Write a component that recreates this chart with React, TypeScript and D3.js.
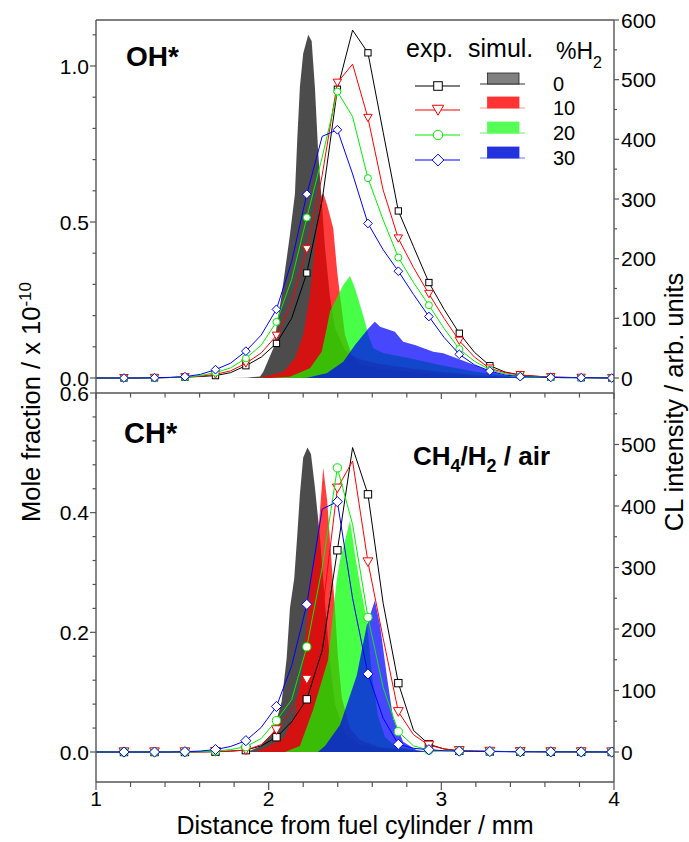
import React from 'react';
import * as d3 from 'd3';

type Pt = [number, number];

// ---------- Experimental grid (mm) ----------
const expX = [0.985, 1.074, 1.162, 1.25, 1.339, 1.427, 1.515, 1.604, 1.692, 1.78, 1.868, 1.957, 2.045, 2.133, 2.221, 2.31, 2.398, 2.486, 2.575, 2.663, 2.751, 2.839, 2.928, 3.016, 3.104, 3.192, 3.281, 3.369, 3.457, 3.545, 3.634, 3.722, 3.81, 3.898, 3.987];

// ---------- OH* experiments (CL intensity, arb. units) ----------
const ohExp0 = [0, 0, 0, 0, 0.3, 0.8, 1.5, 2.5, 4, 9, 20.6, 35, 58, 100, 176, 298, 484, 583, 545, 412, 280, 220, 160, 115, 75, 43, 20.6, 10, 5, 3, 1.5, 1, 0.5, 0.3, 0];
const ohExp10 = [0, 0, 0, 0, 0.3, 0.8, 1.5, 3, 6, 12, 24.6, 42, 71, 125, 216, 340, 495, 526, 436, 315, 234, 185, 141, 100, 62.6, 35, 16, 9, 5, 3, 1.5, 1, 0.5, 0.3, 0];
const ohExp20 = [0, 0, 0, 0, 0.3, 0.8, 1.5, 4, 9, 17, 33, 55, 94, 165, 269, 370, 480, 438, 335, 265, 202, 160, 122, 83, 48.6, 28, 14, 7, 3, 2, 1, 0.5, 0.5, 0.3, 0];
const ohExp30 = [0, 0, 0, 0, 0.5, 1, 2.3, 6, 14, 25, 45, 72, 115, 195, 308, 405, 416, 342, 259, 215, 179, 140, 103, 68, 39.7, 22, 11.7, 5, 2.2, 1.5, 1, 0.5, 0.5, 0.3, 0];

// ---------- CH* experiments ----------
const chExp0 = [0, 0, 0, 0, 0, 0, 0, 0.2, 0.5, 1.5, 3, 10, 24, 49, 85.7, 165, 328, 495, 419, 242, 112, 35, 12.5, 5, 2, 1.5, 1, 0.8, 0.5, 0.5, 0.3, 0.3, 0.2, 0.1, 0];
const chExp10 = [0, 0, 0, 0, 0, 0, 0, 0.2, 0.5, 1.5, 3, 12, 36, 68, 118, 225, 429, 473, 309, 185, 65.5, 28, 11, 5, 2, 1.5, 1, 0.8, 0.5, 0.5, 0.3, 0.3, 0.2, 0.1, 0];
const chExp20 = [0, 0, 0, 0, 0, 0, 0.2, 0.5, 1.5, 4, 8.6, 22, 51, 85, 171, 300, 462, 370, 219, 105, 33, 10, 3, 2, 1.5, 1, 1, 0.8, 0.5, 0.5, 0.3, 0.3, 0.2, 0.1, 0];
const chExp30 = [0, 0, 0, 0, 0, 0, 0.5, 1.5, 4, 9, 18.4, 40, 74, 140, 240, 395, 407, 250, 127, 55, 12.5, 6, 3.7, 2, 1.5, 1, 0.8, 0.5, 0.5, 0.3, 0.3, 0.2, 0.2, 0.1, 0];

// ---------- OH* simulations (mole fraction x 1e-10) ----------
const ohSim0X = [1.776, 1.874, 1.95, 1.969, 2.027, 2.075, 2.123, 2.152, 2.166, 2.181, 2.2, 2.229, 2.249, 2.268, 2.287, 2.307, 2.326, 2.355, 2.384, 2.442, 2.529, 2.645, 2.818, 2.992, 3.2, 3.455];
const ohSim0Y = [0, 0.001, 0.005, 0.02, 0.095, 0.266, 0.458, 0.59, 0.77, 0.934, 1.04, 1.1, 1.08, 0.93, 0.72, 0.57, 0.42, 0.26, 0.16, 0.09, 0.045, 0.03, 0.02, 0.012, 0.006, 0];
const ohSim10X = [1.921, 1.95, 2.085, 2.152, 2.2, 2.239, 2.268, 2.287, 2.297, 2.317, 2.339, 2.374, 2.397, 2.413, 2.442, 2.481, 2.529, 2.645, 2.818, 2.992, 3.2, 3.397, 3.629];
const ohSim10Y = [0, 0.001, 0.02, 0.063, 0.138, 0.266, 0.426, 0.533, 0.575, 0.592, 0.554, 0.48, 0.34, 0.266, 0.138, 0.074, 0.06, 0.045, 0.031, 0.02, 0.01, 0.003, 0];
const ohSim20X = [2.008, 2.123, 2.239, 2.307, 2.336, 2.355, 2.432, 2.471, 2.5, 2.529, 2.558, 2.577, 2.606, 2.664, 2.818, 2.992, 3.2, 3.397, 3.571, 3.687];
const ohSim20Y = [0, 0.004, 0.031, 0.084, 0.159, 0.213, 0.298, 0.327, 0.288, 0.234, 0.18, 0.138, 0.095, 0.08, 0.063, 0.042, 0.02, 0.006, 0.001, 0];
const ohSim30X = [2.181, 2.22, 2.336, 2.432, 2.5, 2.577, 2.615, 2.645, 2.731, 2.779, 2.847, 2.953, 3.011, 3.089, 3.166, 3.262, 3.358, 3.455, 3.571];
const ohSim30Y = [0, 0.001, 0.015, 0.052, 0.106, 0.159, 0.18, 0.164, 0.148, 0.116, 0.106, 0.084, 0.079, 0.063, 0.047, 0.026, 0.01, 0.001, 0];

// ---------- CH* simulations ----------
const chSim0X = [1.874, 1.95, 2.027, 2.075, 2.104, 2.123, 2.148, 2.166, 2.181, 2.2, 2.225, 2.245, 2.268, 2.297, 2.326, 2.355, 2.384, 2.442, 2.529, 2.702, 2.934];
const chSim0Y = [0, 0.009, 0.034, 0.084, 0.156, 0.24, 0.29, 0.364, 0.431, 0.492, 0.509, 0.498, 0.442, 0.36, 0.25, 0.15, 0.08, 0.03, 0.012, 0.004, 0];
const chSim10X = [1.921, 1.95, 2.085, 2.152, 2.191, 2.22, 2.245, 2.281, 2.297, 2.316, 2.339, 2.361, 2.384, 2.401, 2.424, 2.471, 2.529, 2.645, 2.876, 3.05];
const chSim10Y = [0, 0.003, 0.023, 0.062, 0.128, 0.212, 0.292, 0.342, 0.403, 0.475, 0.42, 0.33, 0.24, 0.16, 0.09, 0.04, 0.02, 0.008, 0.002, 0];
const chSim20X = [2.094, 2.181, 2.257, 2.343, 2.394, 2.413, 2.442, 2.471, 2.5, 2.529, 2.568, 2.598, 2.633, 2.674, 2.731, 2.876, 3.05];
const chSim20Y = [0, 0.01, 0.07, 0.153, 0.287, 0.32, 0.353, 0.387, 0.33, 0.28, 0.22, 0.13, 0.06, 0.025, 0.01, 0.002, 0];
const chSim30X = [2.285, 2.326, 2.413, 2.51, 2.568, 2.615, 2.645, 2.684, 2.721, 2.779, 2.857, 2.934];
const chSim30Y = [0, 0.01, 0.045, 0.128, 0.212, 0.253, 0.212, 0.128, 0.056, 0.017, 0.003, 0];

// ---------- Ticks & labels ----------
const xTickLabels = ['1', '2', '3', '4'];
const h2Labels = ['0', '10', '20', '30'];
const seriesColors = ['#000000', '#ff0000', '#00f000', '#0000ff'];
const fillColors = ['#000000', '#ff0000', '#00ff00', '#0000ff'];
const fillOpacity = [0.7, 0.76, 0.72, 0.72];
const markerShapes = ['square', 'triangle', 'circle', 'diamond'];

const FONT = "'Liberation Sans', Arial, Helvetica, sans-serif";
const zip = (xs: number[], ys: number[]): Pt[] => xs.map((x, i) => [x, ys[i]]);

function Marker({ shape, x, y, s, color }: { shape: string; x: number; y: number; s: number; color: string }) {
  const common = { fill: '#fff', stroke: color, strokeWidth: 1 };
  if (shape === 'square') return <rect x={x - s * 0.45} y={y - s * 0.45} width={s * 0.9} height={s * 0.9} {...common} />;
  if (shape === 'triangle') {
    const w = s * 0.6, h = s * 0.5;
    return <polygon points={`${x - w},${y - h} ${x + w},${y - h} ${x},${y + h * 1.1}`} {...common} />;
  }
  if (shape === 'circle') return <circle cx={x} cy={y} r={s * 0.5} {...common} />;
  const d = s * 0.62;
  return <polygon points={`${x},${y - d} ${x + d},${y} ${x},${y + d} ${x - d},${y}`} {...common} />;
}

export default function App() {
  const W = 689, H = 842;
  const xL = 96, xR = 614;
  const xS = d3.scaleLinear().domain([1, 4]).range([xL, xR]);
  const axisColor = '#555';

  const panels = [
    {
      id: 'top', y0: 20, y1: 393,
      yL: d3.scaleLinear().domain([0, 1]).range([378, 66]),
      yR: d3.scaleLinear().domain([0, 600]).range([378, 20]),
      sims: [zip(ohSim0X, ohSim0Y), zip(ohSim10X, ohSim10Y), zip(ohSim20X, ohSim20Y), zip(ohSim30X, ohSim30Y)],
      exps: [ohExp0, ohExp10, ohExp20, ohExp30],
      ms: 7,
      leftTicks: d3.range(0, 1.15, 0.1), leftMajorStep: 0.5,
      rightTicks: d3.range(0, 601, 50),
    },
    {
      id: 'bot', y0: 393, y1: 782,
      yL: d3.scaleLinear().domain([0, 0.6]).range([752, 393]),
      yR: d3.scaleLinear().domain([0, 500]).range([752, 444.5]),
      sims: [zip(chSim0X, chSim0Y), zip(chSim10X, chSim10Y), zip(chSim20X, chSim20Y), zip(chSim30X, chSim30Y)],
      exps: [chExp0, chExp10, chExp20, chExp30],
      ms: 8.2,
      leftTicks: d3.range(0, 0.61, 0.04), leftMajorStep: 0.2,
      rightTicks: d3.range(0, 551, 50),
    },
  ];

  const xTicks = d3.range(1, 4.001, 0.2);
  const isMajor = (v: number, step: number) => Math.abs(v / step - Math.round(v / step)) < 1e-6;

  return (
    <svg width={W} height={H} style={{ position: 'absolute', left: 0, top: 0, background: '#fff' }} fontFamily={FONT}>
      <defs>
        {panels.map(p => (
          <clipPath id={`clip-${p.id}`} key={p.id}>
            <rect x={xL} y={p.y0} width={xR - xL} height={p.y1 - p.y0} />
          </clipPath>
        ))}
      </defs>

      {panels.map(p => {
        const area = d3.area<Pt>().x(d => xS(d[0])).y0(p.yL(0)).y1(d => p.yL(d[1]));
        const line = d3.line<Pt>().x(d => xS(d[0])).y(d => p.yR(d[1]));
        return (
          <g key={p.id}>
            <g clipPath={`url(#clip-${p.id})`}>
              {p.sims.map((s, i) => (
                <path key={i} d={area(s) || ''} fill={fillColors[i]} fillOpacity={fillOpacity[i]} stroke="none" />
              ))}
              {p.exps.map((vals, i) => {
                const pts = zip(expX, vals);
                return (
                  <g key={i}>
                    <path d={line(pts) || ''} fill="none" stroke={seriesColors[i]} strokeWidth={1} />
                    {pts.map((d, j) => (j % 2 === 0 && j > 0 ? (
                      <Marker key={j} shape={markerShapes[i]} x={xS(d[0])} y={p.yR(d[1])} s={p.ms} color={seriesColors[i]} />
                    ) : null))}
                  </g>
                );
              })}
            </g>
            {/* left axis */}
            <line x1={xL} x2={xL} y1={p.y0} y2={p.y1} stroke={axisColor} strokeWidth={1.4} />
            {p.leftTicks.map((v, k) => {
              const y = p.yL(v);
              const maj = isMajor(v, p.leftMajorStep);
              return (
                <g key={k}>
                  <line x1={xL - (maj ? 6 : 3.5)} x2={xL} y1={y} y2={y} stroke={axisColor} strokeWidth={1.2} />
                  {maj ? <text x={89} y={y} dy="0.36em" textAnchor="end" fontSize={21}>{v.toFixed(1)}</text> : null}
                </g>
              );
            })}
            {/* right axis */}
            <line x1={xR} x2={xR} y1={p.y0} y2={p.y1} stroke={axisColor} strokeWidth={1.4} />
            {p.rightTicks.map((v, k) => {
              const y = p.yR(v);
              const maj = v % 100 === 0;
              return (
                <g key={k}>
                  <line x1={xR} x2={xR + (maj ? 5 : 3)} y1={y} y2={y} stroke={axisColor} strokeWidth={1.2} />
                  {maj ? <text x={621} y={y} dy="0.36em" textAnchor="start" fontSize={21}>{v}</text> : null}
                </g>
              );
            })}
          </g>
        );
      })}

      {/* top border, shared boundary, bottom axis */}
      <line x1={xL} x2={xR} y1={20} y2={20} stroke={axisColor} strokeWidth={1.4} />
      <line x1={xL} x2={xR} y1={393} y2={393} stroke={axisColor} strokeWidth={1.4} />
      <line x1={xL} x2={xR} y1={782} y2={782} stroke={axisColor} strokeWidth={1.4} />
      {xTicks.map((v, k) => {
        const x = xS(v);
        const maj = isMajor(v, 1);
        return (
          <g key={k}>
            <line x1={x} x2={x} y1={393} y2={393 + (maj ? 6 : 4.5)} stroke={axisColor} strokeWidth={1.2} />
            <line x1={x} x2={x} y1={782} y2={782 + (maj ? 8 : 5)} stroke={axisColor} strokeWidth={1.2} />
          </g>
        );
      })}
      {xTickLabels.map((t, k) => (
        <text key={k} x={xS(+t)} y={806} textAnchor="middle" fontSize={21}>{t}</text>
      ))}

      {/* axis titles */}
      <text x={355} y={834} textAnchor="middle" fontSize={25}>Distance from fuel cylinder / mm</text>
      <text transform="translate(40,402) rotate(-90)" textAnchor="middle" fontSize={25.5}>
        Mole fraction / x 10<tspan fontSize={17} dy={-9}>-10</tspan>
      </text>
      <text transform="translate(683,402) rotate(-90)" textAnchor="middle" fontSize={25.5}>CL intensity / arb. units</text>

      {/* panel labels */}
      <text x={126} y={66} fontSize={28} fontWeight="bold">OH*</text>
      <text x={124} y={443} fontSize={29} fontWeight="bold">CH*</text>
      <text x={413} y={465} fontSize={26} fontWeight="bold">
        CH<tspan fontSize={18} dy={7}>4</tspan><tspan dy={-7}>/H</tspan><tspan fontSize={18} dy={7}>2</tspan><tspan dy={-7}> / air</tspan>
      </text>

      {/* legend */}
      <text x={406} y={57} fontSize={25}>exp.</text>
      <text x={468} y={57} fontSize={25}>simul.</text>
      <text x={556} y={59} fontSize={23}>%H<tspan fontSize={16} dy={9}>2</tspan></text>
      {h2Labels.map((lab, i) => {
        const ry = [86, 110, 135, 160][i];
        const swatchFill = ['#808080', '#ff3333', '#55ff55', '#2233dd'][i];
        const swatchLine = ['#333', '#ff9999', '#66ee66', '#6677ff'][i];
        return (
          <g key={i}>
            <line x1={415} x2={460} y1={ry} y2={ry} stroke={seriesColors[i]} strokeWidth={1.2} />
            <Marker shape={markerShapes[i]} x={438} y={ry} s={9.5} color={seriesColors[i]} />
            <line x1={480} x2={525} y1={ry - 2} y2={ry - 2} stroke={swatchLine} strokeWidth={1} />
            <rect x={487.5} y={ry - 13} width={31.5} height={11} fill={swatchFill} stroke={i === 0 ? '#222' : swatchFill} strokeWidth={0.8} />
            <text x={553} y={ry + 5} fontSize={20}>{lab}</text>
          </g>
        );
      })}
    </svg>
  );
}
